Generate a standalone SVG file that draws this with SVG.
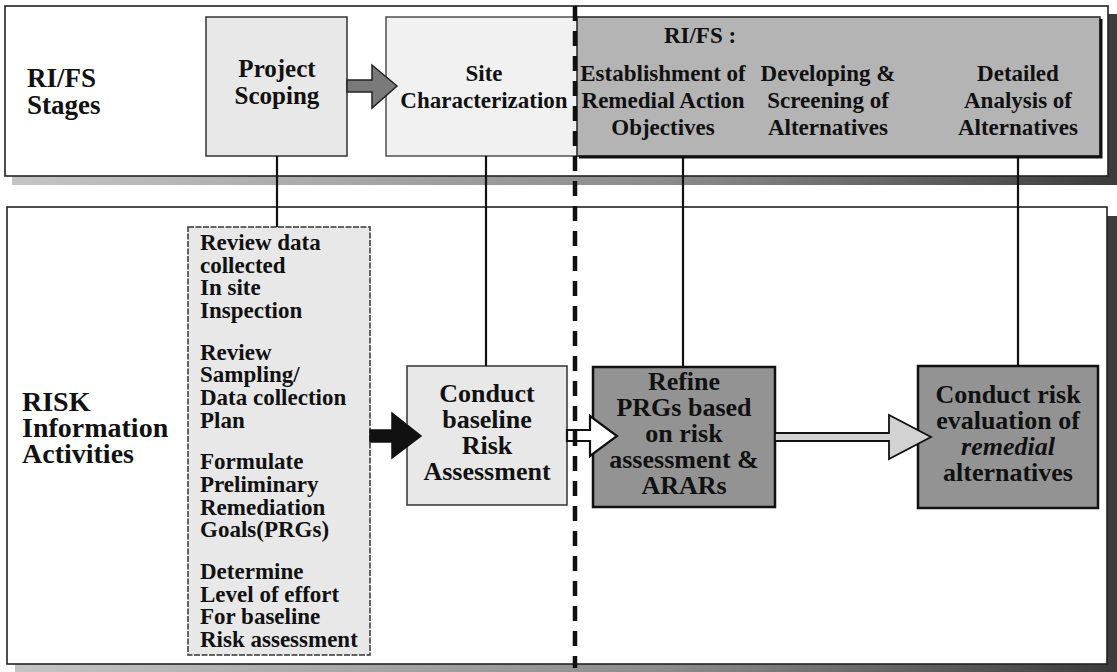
<svg xmlns="http://www.w3.org/2000/svg" width="1117" height="672" viewBox="0 0 1117 672">
<defs>
<style>
.t{font-family:"Liberation Serif","Times New Roman",serif;font-weight:bold;fill:#111}
.c{text-anchor:middle}
.panel{fill:#ffffff;stroke:#222;stroke-width:1.6}
.lt{fill:#e8e8e8;stroke:#333;stroke-width:1.5}
.wt{fill:#f1f1f1;stroke:#444;stroke-width:1.4}
.dk{fill:#939393;stroke:#111;stroke-width:2.5}
.gb{fill:#b4b4b4;stroke:#222;stroke-width:1.5}
.ln{stroke:#111;stroke-width:2.2;fill:none}
.sh{fill:#3c3c3c}
</style>
<linearGradient id="shb" x1="0" y1="0" x2="1" y2="0">
<stop offset="0" stop-color="#c4c4c4"/>
<stop offset="0.6" stop-color="#8a8a8a"/>
<stop offset="1" stop-color="#3c3c3c"/>
</linearGradient>
</defs>
<rect width="1117" height="672" fill="#ffffff"/>

<g id="stages-panel">
<rect x="12" y="176" width="1105" height="9" fill="url(#shb)"/>
<rect class="sh" x="1108" y="14" width="9" height="171"/>
<rect class="panel" x="5" y="6" width="1103" height="170"/>
<text class="t" font-size="27"><tspan x="27" y="87">RI/FS</tspan><tspan x="27" y="114">Stages</tspan></text>
</g>

<g id="project-scoping">
<rect class="lt" x="206" y="17" width="141" height="139"/>
<text class="t c" font-size="25"><tspan x="277" y="77">Project</tspan><tspan x="277" y="104">Scoping</tspan></text>
</g>

<g id="site-characterization">
<rect class="wt" x="386" y="17" width="192" height="139"/>
<text class="t c" font-size="23"><tspan x="484" y="81">Site</tspan><tspan x="484" y="108">Characterization</tspan></text>
</g>

<g id="rifs-box">
<rect class="gb" x="577" y="17" width="523" height="139"/>
<path d="M1101 19 V157 H579" fill="none" stroke="#111" stroke-width="3"/>
<text class="t c" font-size="23"><tspan x="700" y="43">RI/FS :</tspan></text>
<text class="t c" font-size="23"><tspan x="663" y="81">Establishment of</tspan><tspan x="663" y="108">Remedial Action</tspan><tspan x="663" y="135">Objectives</tspan></text>
<text class="t c" font-size="23"><tspan x="828" y="81">Developing &amp;</tspan><tspan x="828" y="108">Screening of</tspan><tspan x="828" y="135">Alternatives</tspan></text>
<text class="t c" font-size="23"><tspan x="1018" y="81">Detailed</tspan><tspan x="1018" y="108">Analysis of</tspan><tspan x="1018" y="135">Alternatives</tspan></text>
</g>

<g id="risk-panel">
<rect x="15" y="664" width="1102" height="8" fill="url(#shb)"/>
<rect class="sh" x="1107" y="216" width="10" height="456"/>
<rect class="panel" x="7" y="207" width="1100" height="457"/>
<text class="t" font-size="28"><tspan x="22" y="411">RISK</tspan><tspan x="22" y="437">Information</tspan><tspan x="22" y="463">Activities</tspan></text>
</g>

<g id="risk-activities-list">
<rect class="lt" x="188" y="227" width="182" height="428" stroke-dasharray="6 1.5"/>
<text class="t" font-size="23">
<tspan x="200" y="250">Review data</tspan><tspan x="200" y="272.7">collected</tspan><tspan x="200" y="295.4">In site</tspan><tspan x="200" y="318.1">Inspection</tspan>
<tspan x="200" y="359.6">Review</tspan><tspan x="200" y="382.3">Sampling/</tspan><tspan x="200" y="405">Data collection</tspan><tspan x="200" y="427.7">Plan</tspan>
<tspan x="200" y="469.2">Formulate</tspan><tspan x="200" y="491.9">Preliminary</tspan><tspan x="200" y="514.6">Remediation</tspan><tspan x="200" y="537.3">Goals(PRGs)</tspan>
<tspan x="200" y="578.8">Determine</tspan><tspan x="200" y="601.5">Level of  effort</tspan><tspan x="200" y="624.2">For baseline</tspan><tspan x="200" y="646.9">Risk assessment</tspan>
</text>
</g>

<g id="baseline-risk-assessment">
<rect class="lt" x="407" y="366" width="160" height="139" stroke-width="2"/>
<text class="t c" font-size="26"><tspan x="487" y="402">Conduct</tspan><tspan x="487" y="428">baseline</tspan><tspan x="487" y="454">Risk</tspan><tspan x="487" y="480">Assessment</tspan></text>
</g>

<g id="refine-prgs">
<rect class="dk" x="593" y="367" width="182" height="140"/>
<text class="t c" font-size="26"><tspan x="684" y="390">Refine</tspan><tspan x="684" y="416">PRGs based</tspan><tspan x="684" y="442">on risk</tspan><tspan x="684" y="468">assessment &amp;</tspan><tspan x="684" y="494">ARARs</tspan></text>
</g>

<g id="risk-evaluation">
<rect class="dk" x="918" y="366" width="180" height="142"/>
<text class="t c" font-size="26"><tspan x="1008" y="403">Conduct risk</tspan><tspan x="1008" y="429">evaluation of</tspan><tspan x="1008" y="455" font-style="italic">remedial</tspan><tspan x="1008" y="481">alternatives</tspan></text>
</g>

<g id="connectors">
<line class="ln" x1="277" y1="156" x2="277" y2="227"/>
<line class="ln" x1="486" y1="156" x2="486" y2="366"/>
<line class="ln" x1="683" y1="156" x2="683" y2="367"/>
<line class="ln" x1="1018" y1="156" x2="1018" y2="366"/>
<polygon points="347,80 372,80 372,65 397,86 372,108 372,92 347,92" fill="#7a7a7a" stroke="#222" stroke-width="1.5"/>
<polygon points="370,430 392,430 392,413 421,436 392,458 392,442 370,442" fill="#111" stroke="#111" stroke-width="1.5"/>
<polygon points="567,430 590,430 590,416 617,436 590,456 590,441 567,441" fill="#ffffff" stroke="#111" stroke-width="2.2"/>
<polygon points="775,433 889,433 889,415 931,437 889,459 889,441 775,441" fill="#d2d2d2" stroke="#111" stroke-width="1.8"/>
<line x1="575" y1="6" x2="575" y2="668" stroke="#111" stroke-width="4.5" stroke-dasharray="15 10"/>
</g>
</svg>
